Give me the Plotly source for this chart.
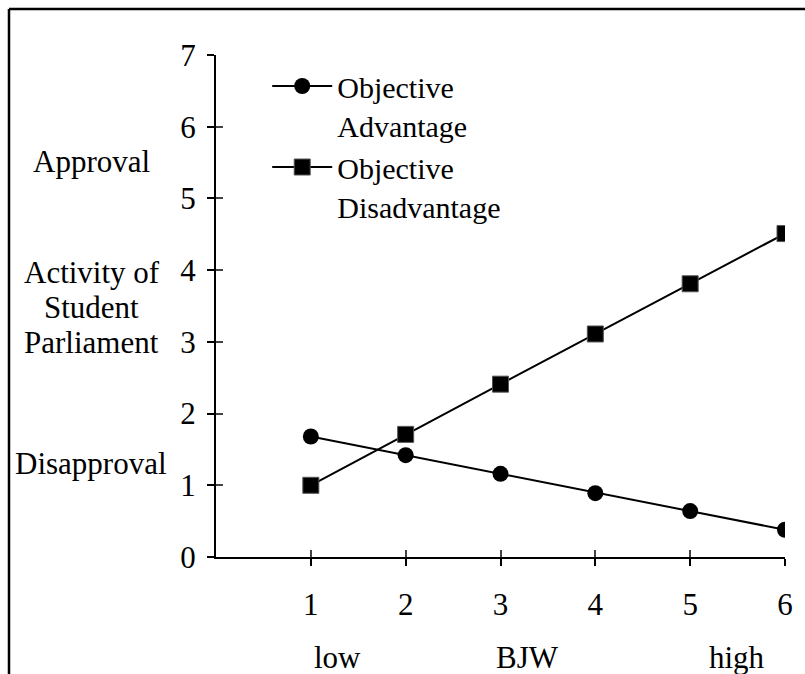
import plotly.graph_objects as go

bjw_levels = [1, 2, 3, 4, 5, 6]
objective_advantage = [1.68, 1.42, 1.16, 0.89, 0.64, 0.38]
objective_disadvantage = [1.00, 1.71, 2.41, 3.11, 3.81, 4.51]
x_ticks = [1, 2, 3, 4, 5, 6]
y_ticks = [0, 1, 2, 3, 4, 5, 6, 7]
series_names = ["Objective<br>Advantage", "Objective<br>Disadvantage"]

FONT = "Liberation Serif, Times New Roman, serif"
FS = 31

fig = go.Figure()
fig.add_trace(go.Scatter(
    x=bjw_levels, y=objective_advantage, name=series_names[0],
    mode="lines+markers",
    line=dict(color="black", width=2),
    marker=dict(symbol="circle", size=16, color="black"),
))
fig.add_trace(go.Scatter(
    x=bjw_levels, y=objective_disadvantage, name=series_names[1],
    mode="lines+markers",
    line=dict(color="black", width=2),
    marker=dict(symbol="square", size=16, color="black",
                line=dict(color="#555", width=1)),
))
# invisible trace anchoring the overlay axes (inside ticks -> crossing ticks)
fig.add_trace(go.Scatter(x=[None], y=[None], xaxis="x2", yaxis="y2",
                         showlegend=False, hoverinfo="skip"))

axis_common = dict(showgrid=False, zeroline=False, color="black",
                   tickfont=dict(family=FONT, size=FS, color="black"))

fig.update_layout(
    width=805, height=674,
    margin=dict(l=216, r=20, t=55, b=117),
    paper_bgcolor="white", plot_bgcolor="white",
    font=dict(family=FONT, size=FS, color="black"),
    xaxis=dict(range=[0, 6], tickvals=x_ticks, ticks="outside", ticklen=7,
               tickwidth=2, showline=True, linewidth=2, linecolor="black",
               ticklabelstandoff=12, **axis_common),
    yaxis=dict(range=[0, 7], tickvals=y_ticks, ticks="outside", ticklen=7,
               tickwidth=2, showline=True, linewidth=2, linecolor="black",
               ticklabelstandoff=5, **axis_common),
    xaxis2=dict(range=[0, 6], tickvals=[0] + x_ticks, ticks="inside", ticklen=7,
                tickwidth=2, overlaying="x", side="bottom", showticklabels=False,
                showgrid=False, zeroline=False, showline=False),
    yaxis2=dict(range=[0, 7], tickvals=y_ticks, ticks="inside", ticklen=7,
                tickwidth=2, overlaying="y", side="left", showticklabels=False,
                showgrid=False, zeroline=False, showline=False),
    showlegend=True,
    legend=dict(x=0.09, y=0.99, xanchor="left", yanchor="top",
                bgcolor="rgba(0,0,0,0)", font=dict(family=FONT, size=30),
                valign="top", tracegroupgap=0, itemwidth=60),
)

annotations = [
    dict(text="Approval", x=-0.218, y=0.787),
    dict(text="Activity of", x=-0.218, y=0.5677),
    dict(text="Student", x=-0.218, y=0.498),
    dict(text="Parliament", x=-0.218, y=0.4263),
    dict(text="Disapproval", x=-0.22, y=0.187),
    dict(text="low", x=0.213, y=-0.201),
    dict(text="BJW", x=0.548, y=-0.201),
    dict(text="high", x=0.916, y=-0.201),
]
for a in annotations:
    fig.add_annotation(xref="paper", yref="paper", showarrow=False,
                       xanchor="center", yanchor="middle", align="center",
                       font=dict(family=FONT, size=FS, color="black"), **a)

# outer frame (left and top edges)
fig.add_shape(type="line", xref="paper", yref="paper",
              x0=-0.3638, x1=-0.3638, y0=1.0916, y1=-0.25,
              line=dict(color="black", width=2.5))
fig.add_shape(type="line", xref="paper", yref="paper",
              x0=-0.3638, x1=1.05, y0=1.0916, y1=1.0916,
              line=dict(color="black", width=2.5))

fig.write_html("out.html", config={"displayModeBar": False},
               post_script="document.body.style.margin='0';document.body.style.overflow='hidden';")
